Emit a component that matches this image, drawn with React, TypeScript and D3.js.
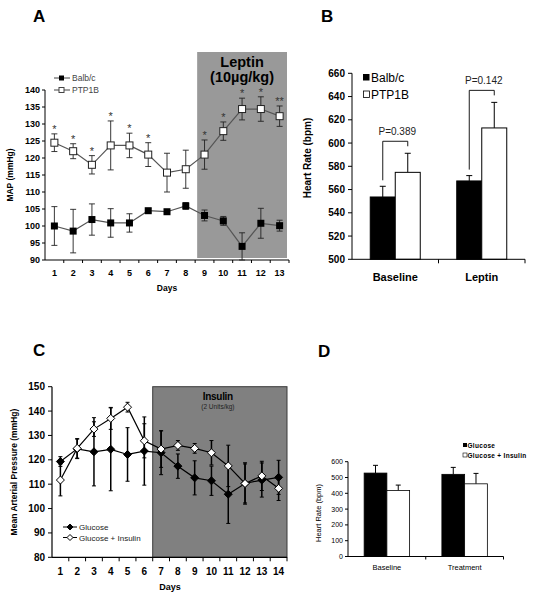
import React from "react";
import * as d3 from "d3";

// ---------- Panel A data ----------
const daysA = ["1","2","3","4","5","6","7","8","9","10","11","12","13"];
const balbMAP = [100, 98.5, 101.9, 100.9, 100.9, 104.5, 104.2, 105.9, 103.1, 101.5, 94, 100.8, 100.1];
const balbErr = [5.7, 6.4, 4.6, 4.2, 2.7, 0.6, 0.6, 1, 1.6, 1.3, 4, 4.4, 1.6];
const ptpMAP = [124.5, 122, 118, 123.7, 123.7, 121, 115.7, 116.7, 121, 127.9, 134.4, 134.4, 132.3];
const ptpErr = [2.6, 2.2, 2.7, 7.2, 3.6, 3.5, 5.7, 5.6, 4.3, 2.7, 3.2, 3.6, 3];
const sigA = ["*", "*", "*", "*", "*", "*", "", "", "*", "*", "*", "*", "**"];
const ticksA = [90, 95, 100, 105, 110, 115, 120, 125, 130, 135, 140];

// ---------- Panel B data ----------
const groupsB = ["Baseline", "Leptin"];
const seriesB = ["Balb/c", "PTP1B"];
const hrBalb = [553.6, 567.4];
const hrBalbErr = [9.2, 4.6];
const hrPtp = [574.8, 613];
const hrPtpErr = [16.4, 22];
const pLabels = ["P=0.389", "P=0.142"];
const ticksB = [500, 520, 540, 560, 580, 600, 620, 640, 660];

// ---------- Panel C data ----------
const daysC = ["1","2","3","4","5","6","7","8","9","10","11","12","13","14"];
const glucose = [119.3, 124.5, 123.3, 124.3, 122.2, 123.6, 122.9, 117.4, 112.6, 111.4, 105.9, 110.3, 111.7, 112.8];
const glucoseErr = [2, 4, 14, 17, 11, 14, 9, 5, 7, 6, 12, 8.5, 7, 7];
const glucIns = [111.7, 124.7, 132.6, 137, 141.6, 127.8, 124.4, 125.9, 124.7, 122.9, 117.5, 110.3, 113.4, 108.3];
const glucInsErr = [6.5, 4, 3, 4.5, 2, 7, 7.5, 2, 2, 5, 8.5, 8, 6, 5];
const ticksC = [80, 90, 100, 110, 120, 130, 140, 150];

// ---------- Panel D data ----------
const groupsD = ["Baseline", "Treatment"];
const seriesD = ["Glucose", "Glucose + Insulin"];
const hrGlu = [528, 520];
const hrGluErr = [49, 44];
const hrGI = [418, 460];
const hrGIErr = [34, 66];
const ticksD = [0, 100, 200, 300, 400, 500, 600];

const FONT = "'Liberation Sans', Arial, Helvetica, sans-serif";

function PanelA() {
  const x = d3.scaleBand().domain(daysA).range([45, 289]);
  const cx = (d: string) => (x(d) as number) + x.bandwidth() / 2;
  const y = d3.scaleLinear().domain([90, 140]).range([260, 90]);
  const line = d3.line<number>().x((_, i) => cx(daysA[i])).y((v) => y(v));
  const shadeX0 = (x("9") as number) + 2;
  const shadeX1 = 287;
  const ms = 7;
  return (
    <g fontFamily={FONT}>
      <text x={33} y={22} fontSize={17} fontWeight="bold">A</text>
      <rect x={shadeX0} y={52} width={shadeX1 - shadeX0} height={y(90) - 2 - 52} fill="#999999" />
      <text x={(shadeX0 + shadeX1) / 2} y={67} textAnchor="middle" fontSize={14.5} fontWeight="bold">Leptin</text>
      <text x={(shadeX0 + shadeX1) / 2} y={82} textAnchor="middle" fontSize={14.5} fontWeight="bold">(10µg/kg)</text>
      {/* axes */}
      <line x1={45} x2={45} y1={y(140)} y2={y(90)} stroke="#000" />
      <line x1={45} x2={289} y1={y(90)} y2={y(90)} stroke="#000" />
      {ticksA.map((t) => (
        <g key={t}>
          <line x1={42} x2={45} y1={y(t)} y2={y(t)} stroke="#000" />
          <text x={40} y={y(t) + 3} textAnchor="end" fontSize={9} fontWeight="bold">{t}</text>
        </g>
      ))}
      {daysA.map((d) => (
        <g key={d}>
          <line x1={(x(d) as number) + x.bandwidth()} x2={(x(d) as number) + x.bandwidth()} y1={y(90)} y2={y(90) + 3} stroke="#000" />
          <text x={cx(d)} y={276} textAnchor="middle" fontSize={9} fontWeight="bold">{d}</text>
        </g>
      ))}
      <text x={167} y={291} textAnchor="middle" fontSize={8.5} fontWeight="bold">Days</text>
      <text transform={`translate(13,${175}) rotate(-90)`} textAnchor="middle" fontSize={8.5} fontWeight="bold">MAP (mmHg)</text>
      {/* lines */}
      <path d={line(balbMAP) || ""} fill="none" stroke="#555" strokeWidth={1.2} />
      <path d={line(ptpMAP) || ""} fill="none" stroke="#555" strokeWidth={1.2} />
      {/* error bars */}
      {[{ v: balbMAP, e: balbErr }, { v: ptpMAP, e: ptpErr }].map((s, si) =>
        s.v.map((v, i) => {
          const xc = cx(daysA[i]);
          const lo = Math.max(90, v - s.e[i]);
          return (
            <g key={`${si}-${i}`} stroke="#222" strokeWidth={0.9}>
              <line x1={xc} x2={xc} y1={y(v + s.e[i])} y2={y(lo)} />
              <line x1={xc - 3} x2={xc + 3} y1={y(v + s.e[i])} y2={y(v + s.e[i])} />
              {v - s.e[i] >= 90 && <line x1={xc - 3} x2={xc + 3} y1={y(lo)} y2={y(lo)} />}
            </g>
          );
        })
      )}
      {/* markers */}
      {balbMAP.map((v, i) => (
        <rect key={`b${i}`} x={cx(daysA[i]) - ms / 2} y={y(v) - ms / 2} width={ms} height={ms} fill="#000" />
      ))}
      {ptpMAP.map((v, i) => (
        <rect key={`p${i}`} x={cx(daysA[i]) - ms / 2} y={y(v) - ms / 2} width={ms} height={ms} fill="#fff" stroke="#222" strokeWidth={1} />
      ))}
      {/* significance */}
      {sigA.map((s, i) =>
        s ? (
          <text key={`s${i}`} x={cx(daysA[i])} y={y(ptpMAP[i] + ptpErr[i]) - 1} textAnchor="middle" fontSize={11} fill="#333">{s}</text>
        ) : null
      )}
      {/* legend */}
      <line x1={54} x2={70} y1={78} y2={78} stroke="#444" />
      <rect x={59} y={75.5} width={5} height={5} fill="#000" />
      <text x={72} y={81} fontSize={8.5} fill="#444">Balb/c</text>
      <line x1={54} x2={70} y1={90} y2={90} stroke="#444" />
      <rect x={59} y={87.5} width={5} height={5} fill="#fff" stroke="#444" />
      <text x={72} y={93} fontSize={8.5} fill="#444">PTP1B</text>
    </g>
  );
}

function PanelB() {
  const x = d3.scaleBand().domain(groupsB).range([352, 525]);
  const xi = d3.scaleBand().domain(seriesB).range([0, x.bandwidth()]).paddingOuter(0.73);
  const y = d3.scaleLinear().domain([500, 660]).range([259.3, 73.3]);
  const series = [
    { vals: hrBalb, errs: hrBalbErr, fill: "#000" },
    { vals: hrPtp, errs: hrPtpErr, fill: "#fff" },
  ];
  return (
    <g fontFamily={FONT}>
      <text x={321} y={22} fontSize={17} fontWeight="bold">B</text>
      {groupsB.map((g, gi) =>
        series.map((s, si) => {
          const bx = (x(g) as number) + (xi(seriesB[si]) as number);
          const bw = xi.bandwidth();
          const top = s.vals[gi] + s.errs[gi];
          return (
            <g key={`${g}${si}`}>
              <line x1={bx + bw / 2} x2={bx + bw / 2} y1={y(top)} y2={y(s.vals[gi])} stroke="#000" />
              <line x1={bx + bw / 2 - 3} x2={bx + bw / 2 + 3} y1={y(top)} y2={y(top)} stroke="#000" />
              <rect x={bx} y={y(s.vals[gi])} width={bw} height={y(500) - y(s.vals[gi])} fill={s.fill} stroke="#000" strokeWidth={1} />
            </g>
          );
        })
      )}
      {/* brackets */}
      {groupsB.map((g, gi) => {
        const c0 = (x(g) as number) + (xi("Balb/c") as number) + xi.bandwidth() / 2;
        const c1 = (x(g) as number) + (xi("PTP1B") as number) + xi.bandwidth() / 2;
        const yb = y(hrPtp[gi] + hrPtpErr[gi]) - 12;
        const yl = y(hrBalb[gi] + hrBalbErr[gi]) - 6;
        return (
          <g key={`br${gi}`}>
            <path d={`M${c0},${yl}V${yb}H${c1}V${yb + 5}`} fill="none" stroke="#000" strokeWidth={0.9} />
            <text x={(c0 + c1) / 2 + 2} y={yb - 6} textAnchor="middle" fontSize={10} fill="#222">{pLabels[gi]}</text>
          </g>
        );
      })}
      {/* axes */}
      <line x1={352} x2={352} y1={y(660)} y2={y(500)} stroke="#000" />
      <line x1={352} x2={525} y1={y(500)} y2={y(500)} stroke="#000" />
      {ticksB.map((t) => (
        <g key={t}>
          <line x1={348} x2={352} y1={y(t)} y2={y(t)} stroke="#000" />
          <text x={345} y={y(t) + 3.5} textAnchor="end" fontSize={10} fontWeight="bold">{t}</text>
        </g>
      ))}
      {groupsB.map((g) => (
        <g key={g}>
          <line x1={(x(g) as number) + x.bandwidth()} x2={(x(g) as number) + x.bandwidth()} y1={y(500)} y2={y(500) + 4} stroke="#000" />
          <text x={(x(g) as number) + x.bandwidth() / 2} y={281} textAnchor="middle" fontSize={11} fontWeight="bold">{g}</text>
        </g>
      ))}
      <text transform={`translate(311,158) rotate(-90)`} textAnchor="middle" fontSize={10} fontWeight="bold">Heart Rate (bpm)</text>
      {/* legend */}
      <rect x={363} y={74} width={6.5} height={6.5} fill="#000" />
      <text x={371} y={81.5} fontSize={12}>Balb/c</text>
      <rect x={363.5} y={91} width={6} height={6.5} fill="#fff" stroke="#000" strokeWidth={0.8} />
      <text x={371} y={98.5} fontSize={12}>PTP1B</text>
    </g>
  );
}

function Diamond({ cx, cy, r, fill }: { cx: number; cy: number; r: number; fill: string }) {
  return <path d={`M${cx},${cy - r}L${cx + r},${cy}L${cx},${cy + r}L${cx - r},${cy}Z`} fill={fill} stroke="#000" strokeWidth={1} />;
}

function PanelC() {
  const x = d3.scaleBand().domain(daysC).range([52, 287]);
  const cx = (d: string) => (x(d) as number) + x.bandwidth() / 2;
  const y = d3.scaleLinear().domain([80, 150]).range([557.3, 386.7]);
  const line = d3.line<number>().x((_, i) => cx(daysC[i])).y((v) => y(v));
  const sx0 = x("7") as number;
  return (
    <g fontFamily={FONT}>
      <text x={33} y={356} fontSize={17} fontWeight="bold">C</text>
      <rect x={sx0} y={y(150)} width={287 - sx0} height={y(80) - y(150)} fill="#808080" stroke="#3a3a3a" strokeWidth={1} />
      <text x={(sx0 + 287) / 2 - 2} y={400} textAnchor="middle" fontSize={10} fontWeight="bold" letterSpacing={-0.3}>Insulin</text>
      <text x={(sx0 + 287) / 2 - 2} y={409} textAnchor="middle" fontSize={6.5} fill="#222">(2 Units/kg)</text>
      {/* axes */}
      <line x1={52} x2={52} y1={y(150)} y2={y(80)} stroke="#000" strokeWidth={1.2} />
      <line x1={52} x2={287} y1={y(80)} y2={y(80)} stroke="#000" strokeWidth={1.2} />
      {ticksC.map((t) => (
        <g key={t}>
          <line x1={48} x2={52} y1={y(t)} y2={y(t)} stroke="#000" />
          <text x={45} y={y(t) + 3.5} textAnchor="end" fontSize={10} fontWeight="bold">{t}</text>
        </g>
      ))}
      {daysC.map((d) => (
        <g key={d}>
          <line x1={(x(d) as number) + x.bandwidth()} x2={(x(d) as number) + x.bandwidth()} y1={y(80)} y2={y(80) + 4} stroke="#000" />
          <text x={cx(d)} y={575} textAnchor="middle" fontSize={10} fontWeight="bold">{d}</text>
        </g>
      ))}
      <text x={170} y={590} textAnchor="middle" fontSize={9} fontWeight="bold">Days</text>
      <text transform={`translate(17,472) rotate(-90)`} textAnchor="middle" fontSize={8.5} fontWeight="bold">Mean Arterial Pressure (mmHg)</text>
      {/* lines */}
      <path d={line(glucose) || ""} fill="none" stroke="#000" strokeWidth={1.2} />
      <path d={line(glucIns) || ""} fill="none" stroke="#000" strokeWidth={1.2} />
      {/* error bars */}
      {[{ v: glucose, e: glucoseErr }, { v: glucIns, e: glucInsErr }].map((s, si) =>
        s.v.map((v, i) => {
          const xc = cx(daysC[i]);
          return (
            <g key={`${si}-${i}`} stroke="#000" strokeWidth={1.5}>
              <line x1={xc} x2={xc} y1={y(v + s.e[i])} y2={y(v - s.e[i])} />
              <line x1={xc - 2} x2={xc + 2} y1={y(v + s.e[i])} y2={y(v + s.e[i])} strokeWidth={1} />
              <line x1={xc - 2} x2={xc + 2} y1={y(v - s.e[i])} y2={y(v - s.e[i])} strokeWidth={1} />
            </g>
          );
        })
      )}
      {glucose.map((v, i) => <Diamond key={`g${i}`} cx={cx(daysC[i])} cy={y(v)} r={4} fill="#000" />)}
      {glucIns.map((v, i) => <Diamond key={`gi${i}`} cx={cx(daysC[i])} cy={y(v)} r={4} fill="#fff" />)}
      {/* legend */}
      <line x1={63} x2={77} y1={527} y2={527} stroke="#000" />
      <Diamond cx={70} cy={527} r={3} fill="#000" />
      <text x={79} y={530} fontSize={8} fill="#222">Glucose</text>
      <line x1={63} x2={77} y1={537.5} y2={537.5} stroke="#000" />
      <Diamond cx={70} cy={537.5} r={3} fill="#fff" />
      <text x={79} y={540.5} fontSize={8} fill="#222">Glucose + Insulin</text>
    </g>
  );
}

function PanelD() {
  const x = d3.scaleBand().domain(groupsD).range([348, 503.5]);
  const xi = d3.scaleBand().domain(seriesD).range([0, x.bandwidth()]).paddingOuter(0.71);
  const y = d3.scaleLinear().domain([0, 600]).range([556.5, 461.7]);
  const series = [
    { vals: hrGlu, errs: hrGluErr, fill: "#000" },
    { vals: hrGI, errs: hrGIErr, fill: "#fff" },
  ];
  return (
    <g fontFamily={FONT}>
      <text x={318} y={357} fontSize={17} fontWeight="bold">D</text>
      {groupsD.map((g, gi) =>
        series.map((s, si) => {
          const bx = (x(g) as number) + (xi(seriesD[si]) as number);
          const bw = xi.bandwidth();
          const top = s.vals[gi] + s.errs[gi];
          return (
            <g key={`${g}${si}`}>
              <line x1={bx + bw / 2} x2={bx + bw / 2} y1={y(top)} y2={y(s.vals[gi])} stroke="#000" />
              <line x1={bx + bw / 2 - 2.5} x2={bx + bw / 2 + 2.5} y1={y(top)} y2={y(top)} stroke="#000" />
              <rect x={bx} y={y(s.vals[gi])} width={bw} height={y(0) - y(s.vals[gi])} fill={s.fill} stroke="#000" strokeWidth={0.8} />
            </g>
          );
        })
      )}
      <line x1={348} x2={348} y1={y(600)} y2={y(0)} stroke="#000" />
      <line x1={348} x2={503.5} y1={y(0)} y2={y(0)} stroke="#000" />
      {ticksD.map((t) => (
        <g key={t}>
          <line x1={345} x2={348} y1={y(t)} y2={y(t)} stroke="#000" />
          <text x={343} y={y(t) + 2.5} textAnchor="end" fontSize={7}>{t}</text>
        </g>
      ))}
      {groupsD.map((g) => (
        <g key={g}>
          <line x1={(x(g) as number) + x.bandwidth()} x2={(x(g) as number) + x.bandwidth()} y1={y(0)} y2={y(0) + 3} stroke="#000" />
          <text x={(x(g) as number) + x.bandwidth() / 2} y={570} textAnchor="middle" fontSize={7.5}>{g}</text>
        </g>
      ))}
      <text transform={`translate(321,513) rotate(-90)`} textAnchor="middle" fontSize={7.5}>Heart Rate (bpm)</text>
      {/* legend */}
      <rect x={463} y={443} width={4} height={4} fill="#000" />
      <text x={467.5} y={447.5} fontSize={6.5} fontWeight="bold" letterSpacing={0.3}>Glucose</text>
      <rect x={463} y={453} width={4} height={4} fill="#fff" stroke="#000" strokeWidth={0.6} />
      <text x={467.5} y={457.5} fontSize={6.5} fontWeight="bold" letterSpacing={0.3}>Glucose + Insulin</text>
    </g>
  );
}

export default function App() {
  return (
    <svg width={536} height={601} style={{ position: "absolute", left: 0, top: 0, background: "#fff" }}>
      <rect width={536} height={601} fill="#fff" />
      <PanelA />
      <PanelB />
      <PanelC />
      <PanelD />
    </svg>
  );
}
